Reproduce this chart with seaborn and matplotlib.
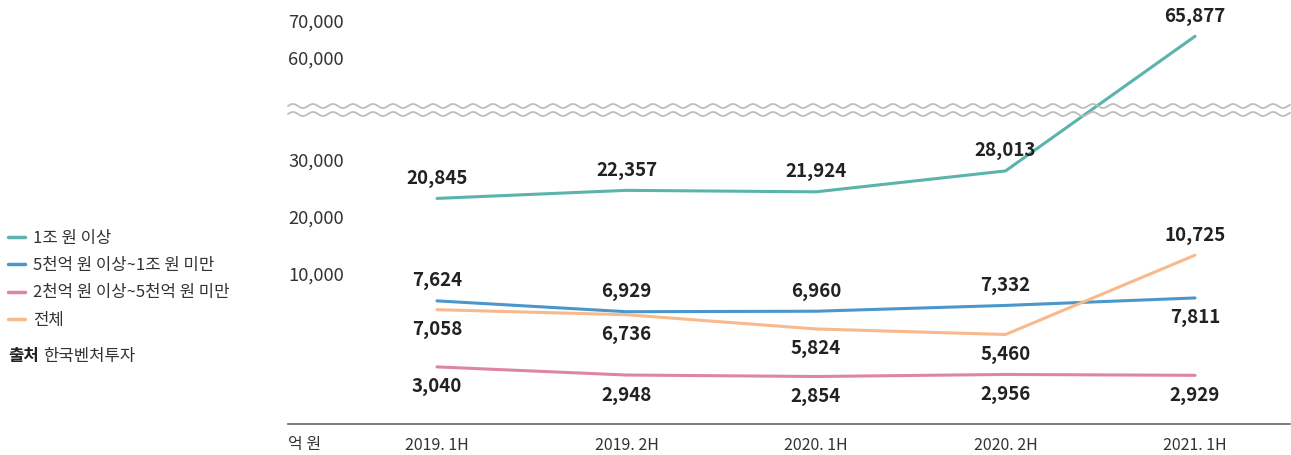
import numpy as np
import pandas as pd
import seaborn as sns
import matplotlib.pyplot as plt
from matplotlib.lines import Line2D

# Data (억 원)
periods = ["2019. 1H", "2019. 2H", "2020. 1H", "2020. 2H", "2021. 1H"]
series_names = ["1조 원 이상", "5천억 원 이상~1조 원 미만", "2천억 원 이상~5천억 원 미만", "전체"]
over_1t = [20845, 22357, 21924, 28013, 65877]
from_500b = [7624, 6929, 6960, 7332, 7811]
from_200b = [3040, 2948, 2854, 2956, 2929]
total = [7058, 6736, 5824, 5460, 10725]
y_ticks = [10000, 20000, 30000, 60000, 70000]
unit_label = "억 원"
source_label = "출처"
source_name = "한국벤처투자"

# Styles
colors = {
    "1조 원 이상": "#5ab4ac",
    "5천억 원 이상~1조 원 미만": "#4b97cc",
    "2천억 원 이상~5천억 원 미만": "#dd86a3",
    "전체": "#f8ba8c",
}
# +1 label above the point, -1 below
label_side = {
    "1조 원 이상": [1, 1, 1, 1, 1],
    "5천억 원 이상~1조 원 미만": [1, 1, 1, 1, -1],
    "2천억 원 이상~5천억 원 미만": [-1, -1, -1, -1, -1],
    "전체": [-1, -1, -1, -1, 1],
}

# Piecewise (broken, schematic) y scale: value -> fraction of axes height
knot_vals = [-200, 2950, 3050, 5500, 8000, 10000, 11000, 20000, 21000, 28000, 30000, 60000, 70000, 75700]
knot_px = [424, 375, 366, 334, 295, 274, 248, 217, 195, 171, 160, 58, 21, 0]
knot_pos = [(424 - p) / 424 for p in knot_px]


def fwd(v):
    return np.interp(np.asarray(v, dtype=float), knot_vals, knot_pos)


def inv(p):
    return np.interp(np.asarray(p, dtype=float), knot_pos, knot_vals)


rows = []
for name, vals in zip(series_names, [over_1t, from_500b, from_200b, total]):
    for i, v in enumerate(vals):
        rows.append({"idx": i, "value": v, "series": name, "side": label_side[name][i]})
df = pd.DataFrame(rows)

sns.set_style("white")
plt.rcParams["font.family"] = ["Noto Sans CJK KR", "DejaVu Sans"]

W, H = 1291, 455
fig = plt.figure(figsize=(W / 100, H / 100), dpi=100)
ax = fig.add_axes([288 / W, (H - 424) / H, (W - 1 - 288) / W, 424 / H])

sns.lineplot(data=df, x="idx", y="value", hue="series", hue_order=series_names,
             palette=colors, linewidth=2.2, legend=False, sort=False, ax=ax)

ax.set_yscale("function", functions=(fwd, inv))
ax.set_ylim(-200, 75700)
ax.set_xlim(-0.786, 4.501)

for _, r in df.iterrows():
    ax.annotate(f"{r['value']:,}", xy=(r["idx"], r["value"]),
                xytext=(0, 20 * r["side"]), textcoords="offset pixels",
                ha="center", va="center", fontsize=13.5, fontweight="bold", color="#222222")

# axes styling
for s in ["left", "top", "right"]:
    ax.spines[s].set_visible(False)
ax.spines["bottom"].set_color("#666666")
ax.spines["bottom"].set_linewidth(1.2)

ax.set_yticks(y_ticks, labels=[f"{v:,}" for v in y_ticks])
ax.tick_params(axis="y", length=0, pad=0, labelsize=13.2, labelcolor="#333333")
for lbl in ax.get_yticklabels():
    lbl.set_ha("left")
ax.set_xticks(range(len(periods)), labels=periods)
ax.tick_params(axis="x", length=0, pad=9, labelsize=11.5, labelcolor="#333333")
ax.set_xlabel("")
ax.set_ylabel("")
ax.annotate(unit_label, xy=(0, 0), xycoords="axes fraction", xytext=(0, -21),
            textcoords="offset pixels", ha="left", va="center", fontsize=11.5, color="#333333")

# axis break waves
xs = np.linspace(0, 1, 2000)
for base_px in [106, 114]:
    ys = (424 - base_px) / 424 + (2 / 424) * np.sin(2 * np.pi * xs * 1002 / 20)
    ax.plot(xs, ys, transform=ax.transAxes, color="#bdbdbd", lw=1.3, clip_on=False)

# legend
handles = [Line2D([], [], color=colors[n], lw=2.5) for n in series_names]
fig.legend(handles, series_names, loc="upper left", bbox_to_anchor=(8 / W, 1 - 230 / H),
           frameon=False, fontsize=12, handlelength=1.0, handletextpad=0.5,
           labelspacing=0.61, borderpad=0, borderaxespad=0, labelcolor="#333333")
fig.text(8 / W, 1 - 356 / H, source_label, fontweight="bold", va="center", fontsize=12, color="#222222")
fig.text(43 / W, 1 - 356 / H, source_name, va="center", fontsize=12, color="#333333")

fig.savefig("out.png", dpi=100)
plt.close(fig)
